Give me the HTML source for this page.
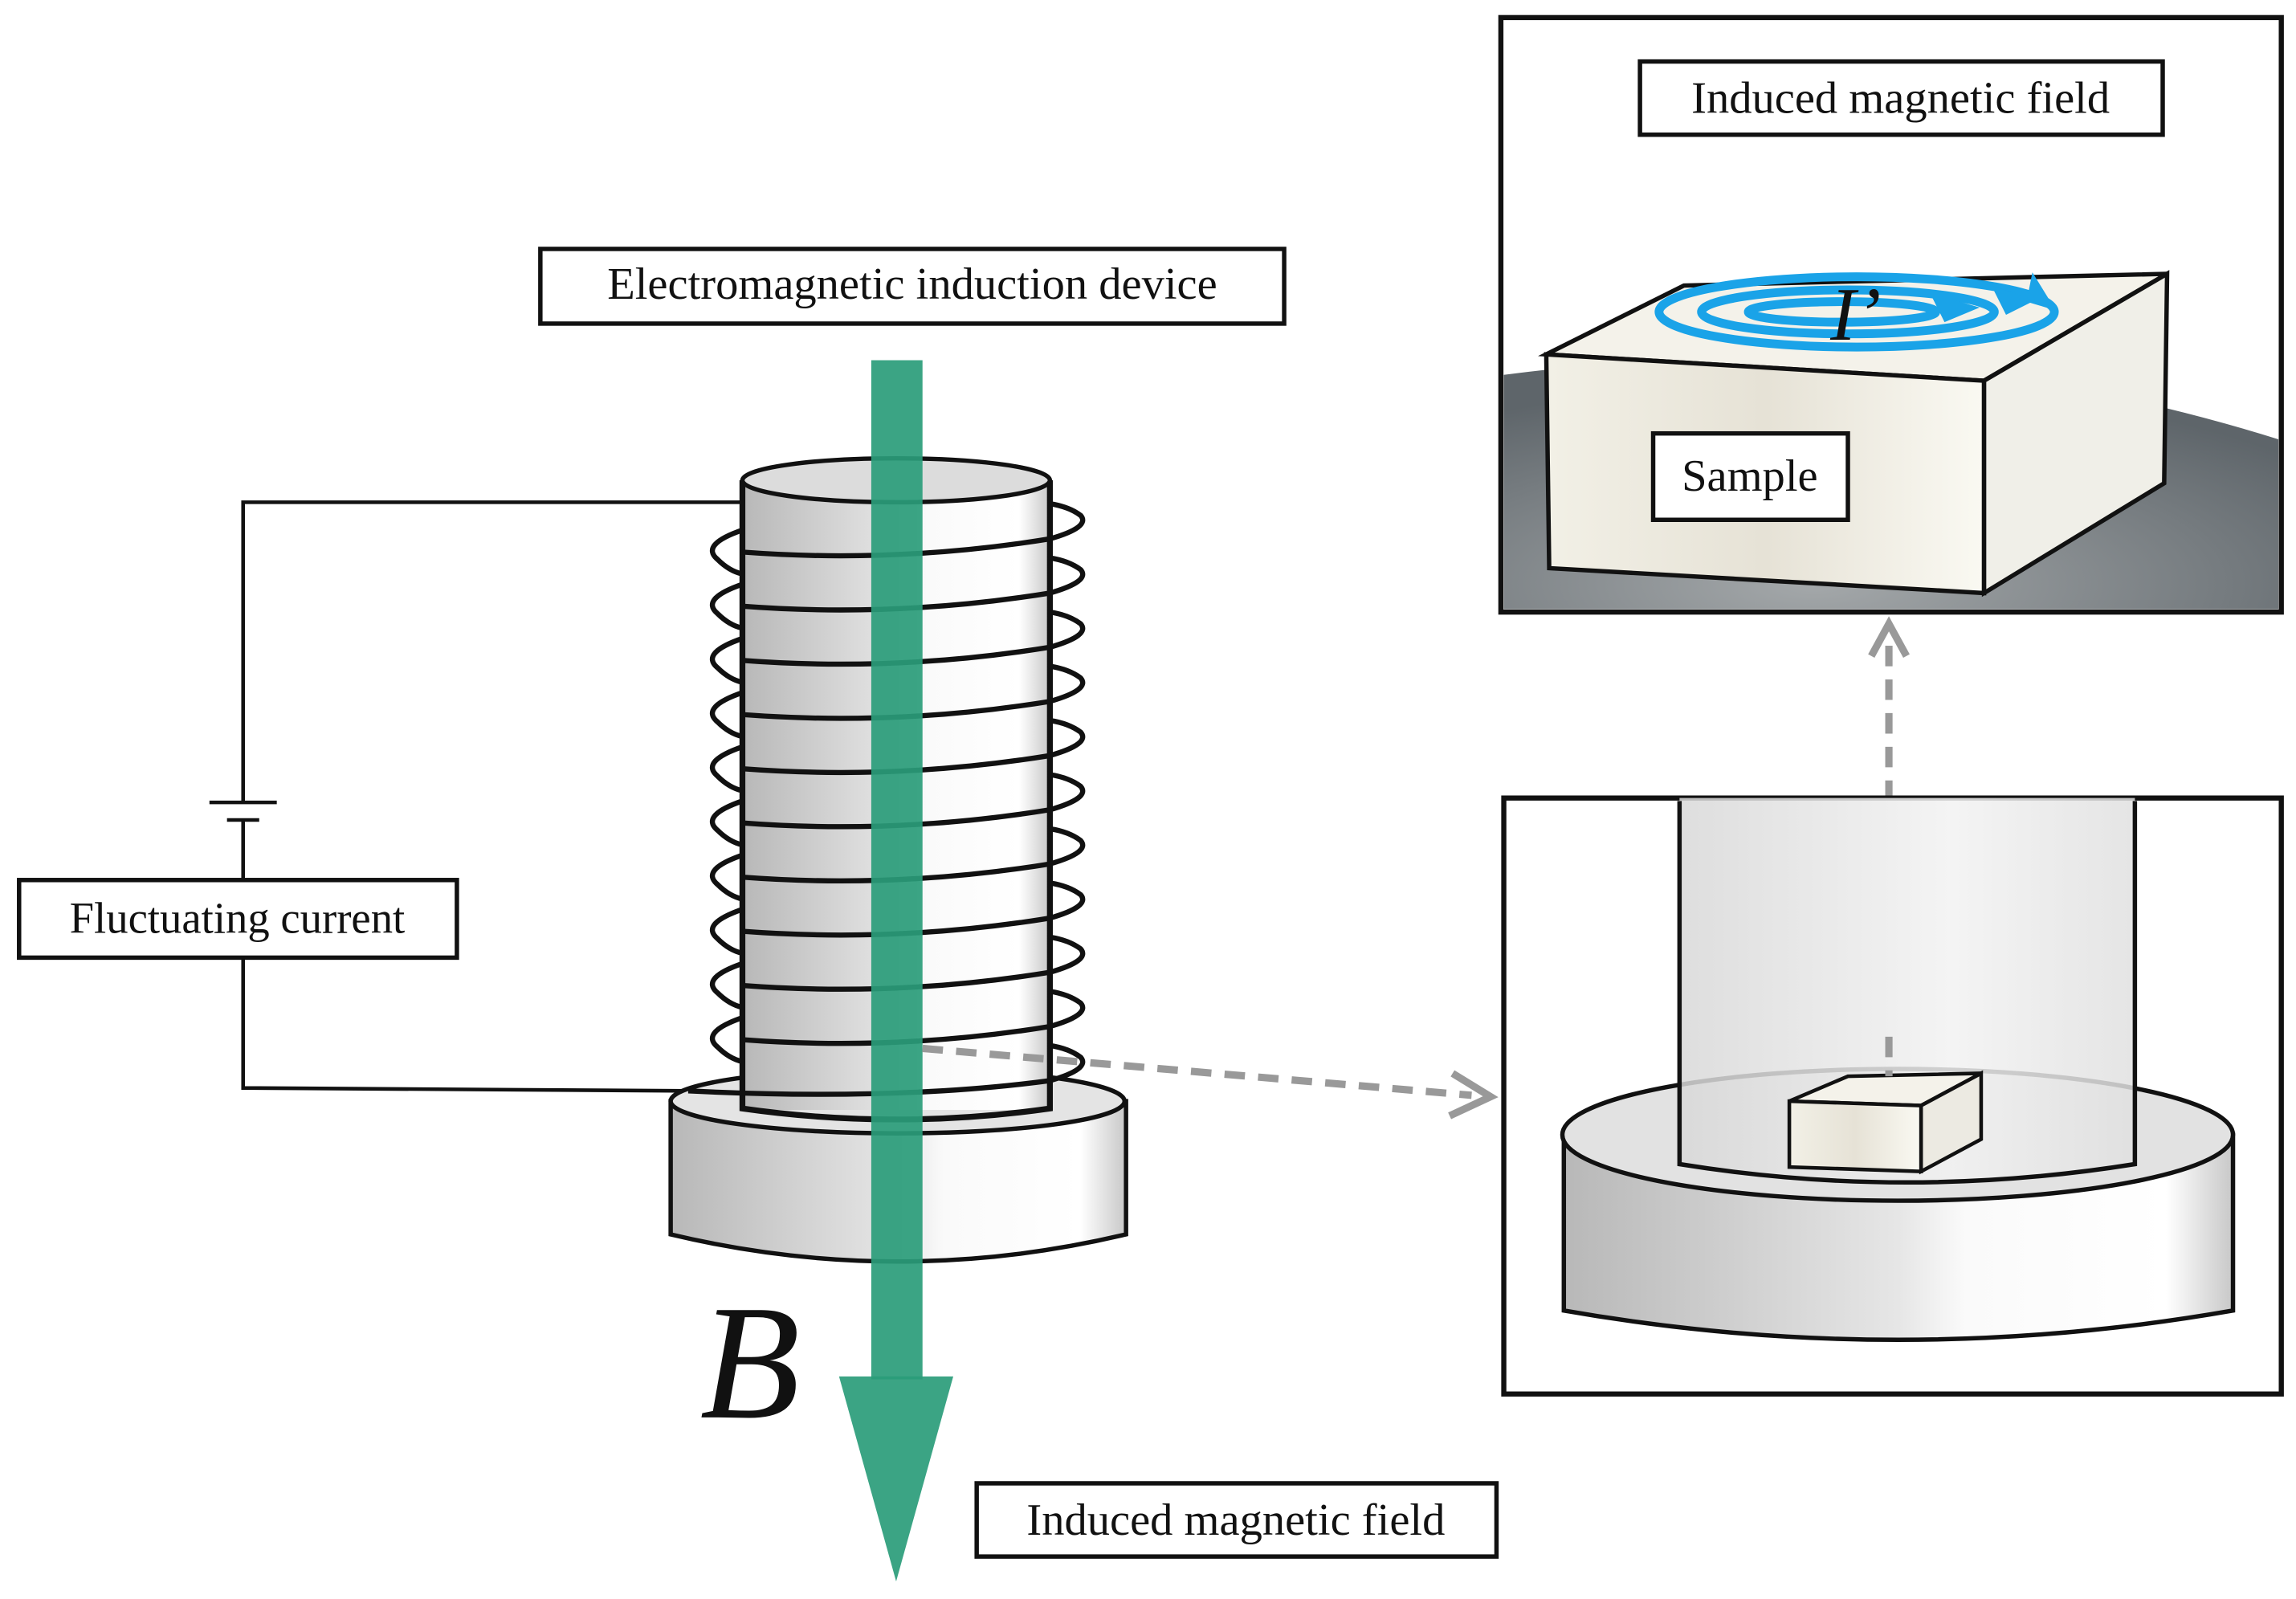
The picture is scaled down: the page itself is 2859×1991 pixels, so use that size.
<!DOCTYPE html>
<html><head><meta charset="utf-8"><style>
html,body{margin:0;padding:0;background:#fff;}
svg{display:block;}
text{font-family:"Liberation Serif",serif;fill:#111;}
</style></head><body>
<svg width="2859" height="1991" viewBox="0 0 1568 1092" xmlns="http://www.w3.org/2000/svg">
<defs>
<linearGradient id="cyl" x1="0" x2="1" y1="0" y2="0">
<stop offset="0" stop-color="#b8b8b8"/><stop offset="0.5" stop-color="#e6e6e6"/><stop offset="0.6" stop-color="#fafafa"/><stop offset="0.9" stop-color="#ffffff"/><stop offset="1" stop-color="#c8c8c8"/>
</linearGradient>
<linearGradient id="box" x1="0" x2="1" y1="0" y2="0">
<stop offset="0" stop-color="#f2f0e6"/><stop offset="0.5" stop-color="#e6e2d6"/><stop offset="1" stop-color="#faf9f2"/>
</linearGradient>
<linearGradient id="tube" x1="0" x2="1">
<stop offset="0" stop-color="#d8d8d8"/><stop offset="0.6" stop-color="#f2f2f2"/><stop offset="1" stop-color="#e0e0e0"/>
</linearGradient>
<radialGradient id="dark" cx="0.4" cy="0.9" r="0.8">
<stop offset="0" stop-color="#a4a8aa"/><stop offset="1" stop-color="#5e656a"/>
</radialGradient>
</defs>

<g fill="none" stroke="#111" stroke-width="2.5">
<polyline points="507,343 166,343 166,548"/>
<polyline points="166,560 166,602"/>
<polyline points="166,654 166,743 470,745"/>
<line x1="143" y1="548" x2="189" y2="548"/>
<line x1="155" y1="560" x2="177" y2="560"/>
</g>
<rect x="13" y="601" width="299" height="53" fill="#fff" stroke="#111" stroke-width="3"/>
<text x="162" y="637" font-size="30" text-anchor="middle">Fluctuating current</text>

<path d="M458,752 L458,843 Q613,880 769,843 L769,752 Z" fill="url(#cyl)" stroke="#111" stroke-width="3"/>
<ellipse cx="613" cy="752" rx="155" ry="22" fill="#e4e4e4" stroke="#111" stroke-width="3"/>

<g fill="none" stroke="#111" stroke-width="3.5">
<path d="M507,362 Q478,372 490,382 Q498,390 507,392"/>
<path d="M507,399 Q478,409 490,419 Q498,427 507,429"/>
<path d="M507,436 Q478,446 490,456 Q498,464 507,466"/>
<path d="M507,473 Q478,483 490,493 Q498,501 507,503"/>
<path d="M507,510 Q478,520 490,530 Q498,538 507,540"/>
<path d="M507,547 Q478,557 490,567 Q498,575 507,577"/>
<path d="M507,584 Q478,594 490,604 Q498,612 507,614"/>
<path d="M507,621 Q478,631 490,641 Q498,649 507,651"/>
<path d="M507,658 Q478,668 490,678 Q498,686 507,688"/>
<path d="M507,695 Q478,705 490,715 Q498,723 507,725"/>
</g>
<rect x="507" y="328" width="210" height="430" fill="url(#cyl)"/>
<path d="M507,328 L507,757 Q612,772 717,757 L717,328" fill="none" stroke="#111" stroke-width="4"/>
<ellipse cx="612" cy="328" rx="105" ry="15" fill="#dcdcdc" stroke="#111" stroke-width="3"/>
<g fill="none" stroke="#111" stroke-width="3.5">
<path d="M507,377 Q612,385 717,368 Q745,360 738,352 Q730,346 717,344"/>
<path d="M507,414 Q612,422 717,405 Q745,397 738,389 Q730,383 717,381"/>
<path d="M507,451 Q612,459 717,442 Q745,434 738,426 Q730,420 717,418"/>
<path d="M507,488 Q612,496 717,479 Q745,471 738,463 Q730,457 717,455"/>
<path d="M507,525 Q612,533 717,516 Q745,508 738,500 Q730,494 717,492"/>
<path d="M507,562 Q612,570 717,553 Q745,545 738,537 Q730,531 717,529"/>
<path d="M507,599 Q612,607 717,590 Q745,582 738,574 Q730,568 717,566"/>
<path d="M507,636 Q612,644 717,627 Q745,619 738,611 Q730,605 717,603"/>
<path d="M507,673 Q612,681 717,664 Q745,656 738,648 Q730,642 717,640"/>
<path d="M507,710 Q612,718 717,701 Q745,693 738,685 Q730,679 717,677"/>
<path d="M470,745 Q612,752 717,738 Q745,730 738,722 Q730,716 717,714"/>
</g>

<rect x="595" y="246" width="35" height="696" fill="#2a9c7a" opacity="0.92"/>
<polygon points="573,940 651,940 612,1080" fill="#2a9c7a" opacity="0.92"/>

<g fill="none" stroke="#999" stroke-width="5" stroke-dasharray="14,9">
<line x1="630" y1="716" x2="1005" y2="748"/>
<line x1="1290" y1="708" x2="1290" y2="440"/>
</g>
<polyline points="992,733 1018,749 990,762" fill="none" stroke="#999" stroke-width="5"/>
<polyline points="1278,448 1290,426 1302,448" fill="none" stroke="#999" stroke-width="5"/>

<rect x="369" y="170" width="508" height="51" fill="#fff" stroke="#111" stroke-width="3"/>
<text x="623" y="204" font-size="31" text-anchor="middle">Electromagnetic induction device</text>
<text x="478" y="968" font-size="112" font-style="italic">B</text>
<rect x="667" y="1013" width="355" height="50" fill="#fff" stroke="#111" stroke-width="3"/>
<text x="844" y="1048" font-size="31" text-anchor="middle">Induced magnetic field</text>

<rect x="1025" y="12" width="533" height="406" fill="#fff"/>
<path d="M1027,256 Q1300,220 1556,300 L1556,416 L1027,416 Z" fill="url(#dark)"/>
<rect x="1025" y="12" width="533" height="406" fill="none" stroke="#111" stroke-width="3.5"/>
<rect x="1120" y="42" width="357" height="50" fill="#fff" stroke="#111" stroke-width="3"/>
<text x="1298" y="77" font-size="31" text-anchor="middle">Induced magnetic field</text>
<polygon points="1056,242 1150,195 1480,187 1355,260" fill="#f4f2ea" stroke="#111" stroke-width="3"/>
<polygon points="1056,242 1355,260 1355,405 1058,388" fill="url(#box)" stroke="#111" stroke-width="3"/>
<polygon points="1355,260 1480,187 1478,330 1355,405" fill="#f0efe8" stroke="#111" stroke-width="3"/>
<g fill="none" stroke="#1aa3e8" stroke-width="6">
<ellipse cx="1268" cy="213" rx="135" ry="24"/>
<ellipse cx="1262" cy="213" rx="100" ry="15"/>
<ellipse cx="1258" cy="213" rx="64" ry="7"/>
</g>
<g fill="#1aa3e8">
<polygon points="1318,200 1352,210 1328,220"/>
<polygon points="1360,195 1390,205 1370,215"/>
<polygon points="1388,186 1404,212 1384,206"/>
</g>
<text x="1250" y="232" font-size="52" font-style="italic">I’</text>
<rect x="1129" y="296" width="133" height="59" fill="#fff" stroke="#111" stroke-width="3"/>
<text x="1195" y="335" font-size="31" text-anchor="middle">Sample</text>

<rect x="1027" y="545" width="531" height="407" fill="#fff" stroke="#111" stroke-width="3.5"/>
<path d="M1068,775 L1068,895 Q1296,935 1525,895 L1525,775 Z" fill="url(#cyl)" stroke="#111" stroke-width="3"/>
<ellipse cx="1296" cy="775" rx="229" ry="45" fill="#e2e2e2" stroke="#111" stroke-width="3"/>
<path d="M1147,545 L1147,795 Q1302,820 1458,795 L1458,545 Z" fill="url(#tube)" opacity="0.85"/>
<path d="M1147,547 L1147,795 Q1302,820 1458,795 L1458,547" fill="none" stroke="#111" stroke-width="3"/>
<polygon points="1222,752 1262,735 1353,733 1312,755" fill="#f4f2ea" stroke="#111" stroke-width="2.5"/>
<polygon points="1222,752 1312,755 1312,800 1222,797" fill="url(#box)" stroke="#111" stroke-width="2.5"/>
<polygon points="1312,755 1353,733 1353,778 1312,800" fill="#eceae2" stroke="#111" stroke-width="2.5"/>
<line x1="1290" y1="708" x2="1290" y2="735" stroke="#999" stroke-width="5" stroke-dasharray="14,9"/>
</svg>
</body></html>
